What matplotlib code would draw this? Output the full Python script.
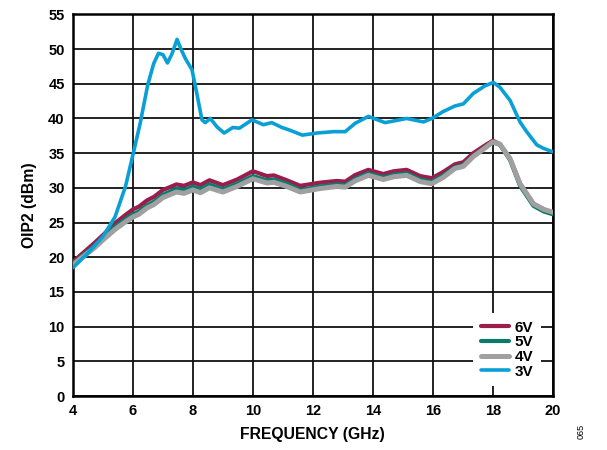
import matplotlib
matplotlib.use("Agg")
import matplotlib.pyplot as plt

plt.rcParams['font.family'] = ['Liberation Sans', 'DejaVu Sans']
plt.rcParams['font.weight'] = 'bold'

# frequency (GHz) and OIP2 (dBm) per supply voltage
freq_6v = [4.0, 4.25, 4.7, 5.0, 5.4, 5.75, 6.0, 6.2, 6.47, 6.7, 7.0, 7.45, 7.7, 8.0, 8.25, 8.55,
           9.0, 9.47, 10.0, 10.47, 10.7, 11.13, 11.58, 12.24, 12.8, 13.08, 13.41, 13.85, 14.35,
           14.7, 15.13, 15.58, 15.97, 16.35, 16.74, 17.02, 17.35, 17.7, 18.0, 18.24, 18.58,
           18.91, 19.36, 19.7, 20.0]
oip2_6v = [19.3, 20.3, 22.0, 23.2, 24.9, 26.1, 26.9, 27.3, 28.2, 28.7, 29.7, 30.5, 30.3, 30.8, 30.4, 31.1,
           30.4, 31.2, 32.4, 31.7, 31.8, 31.1, 30.3, 30.75, 31.0, 30.9, 31.85, 32.6, 32.0,
           32.4, 32.6, 31.7, 31.4, 32.3, 33.4, 33.7, 35.0, 36.0, 36.8, 36.3, 34.2,
           30.6, 27.7, 26.9, 26.4]

freq_5v = freq_6v
oip2_5v = [19.0, 20.0, 21.6, 22.8, 24.4, 25.5, 26.2, 26.6, 27.5, 28.0, 29.0, 29.9, 29.7, 30.2, 29.8, 30.5,
           29.8, 30.6, 31.7, 31.1, 31.2, 30.6, 29.7, 30.2, 30.5, 30.4, 31.3, 32.1, 31.5,
           31.9, 32.1, 31.2, 30.9, 31.8, 33.0, 33.3, 34.6, 35.7, 36.6, 36.2, 34.0,
           30.3, 27.4, 26.6, 26.2]

freq_4v = freq_6v
oip2_4v = [18.9, 19.8, 21.3, 22.5, 24.0, 25.1, 25.8, 26.2, 27.1, 27.6, 28.6, 29.4, 29.2, 29.7, 29.3, 30.0,
           29.4, 30.2, 31.3, 30.7, 30.8, 30.2, 29.4, 29.9, 30.2, 30.1, 31.0, 31.8, 31.2,
           31.6, 31.8, 30.9, 30.6, 31.5, 32.8, 33.1, 34.5, 35.6, 36.6, 36.3, 34.2,
           30.6, 27.7, 26.9, 26.5]

freq_3v = [4.0, 4.5, 5.0, 5.4, 5.75, 6.0, 6.24, 6.49, 6.69, 6.85, 7.0, 7.15, 7.3, 7.47, 7.6, 7.74, 7.97,
           8.13, 8.3, 8.41, 8.58, 8.8, 9.04, 9.33, 9.55, 9.97, 10.35, 10.63, 10.97, 11.24,
           11.65, 12.13, 12.69, 13.08, 13.41, 13.85, 14.41, 15.13, 15.69, 15.97, 16.35,
           16.74, 17.02, 17.35, 17.74, 18.02, 18.24, 18.58, 18.91, 19.13, 19.47, 19.69, 20.0]
oip2_3v = [18.5, 20.6, 23.0, 25.8, 30.2, 34.8, 39.3, 44.8, 47.9, 49.4, 49.2, 48.0, 49.3, 51.4, 50.0, 48.7, 47.0,
           43.6, 39.8, 39.4, 40.0, 38.8, 37.9, 38.7, 38.6, 39.8, 39.1, 39.4, 38.7, 38.3,
           37.6, 37.9, 38.1, 38.1, 39.3, 40.3, 39.4, 40.0, 39.5, 40.0, 41.0,
           41.8, 42.1, 43.6, 44.7, 45.2, 44.5, 42.6, 39.5, 38.1, 36.2, 35.7, 35.2]

x_ticks = [4, 6, 8, 10, 12, 14, 16, 18, 20]
y_ticks = [0, 5, 10, 15, 20, 25, 30, 35, 40, 45, 50, 55]

fig = plt.figure(figsize=(6.07, 4.5), dpi=100)
ax = fig.add_axes([0.1203, 0.12, 0.7902, 0.848])

kw = dict(solid_joinstyle='round', solid_capstyle='round')
ax.plot(freq_6v, oip2_6v, color='#9C1D4C', lw=3.0, label='6V', zorder=3, **kw)
ax.plot(freq_5v, oip2_5v, color='#0A7A6C', lw=3.0, label='5V', zorder=3, **kw)
ax.plot(freq_4v, oip2_4v, color='#A0A0A0', lw=3.6, label='4V', zorder=3, **kw)
ax.plot(freq_3v, oip2_3v, color='#0AA0D6', lw=2.6, label='3V', zorder=4, **kw)

ax.set_xlim(4, 20)
ax.set_ylim(0, 55)
ax.set_xticks(x_ticks)
ax.set_yticks(y_ticks)
ax.tick_params(length=0, labelsize=10.5, pad=6)
for lab in ax.get_xticklabels() + ax.get_yticklabels():
    lab.set_fontweight('bold')
ax.grid(True, color='#111111', lw=1.3)
ax.set_axisbelow(True)
for s in ax.spines.values():
    s.set_linewidth(1.8)
    s.set_color('black')

ax.set_xlabel('FREQUENCY (GHz)', fontsize=11.3, fontweight='bold', labelpad=6)
ax.set_ylabel('OIP2 (dBm)', fontsize=11.3, fontweight='bold', labelpad=8)

leg = ax.legend(loc='lower right', bbox_to_anchor=(0.975, 0.025), frameon=True,
                facecolor='white', edgecolor='none', framealpha=1, fancybox=False,
                fontsize=11, handlelength=1.85, handletextpad=0.35, labelspacing=0.05,
                borderpad=0.5, borderaxespad=0)
for t in leg.get_texts():
    t.set_fontweight('bold')
leg.set_zorder(5)

fig.text(0.958, 0.025, '065', rotation=90, fontsize=6.5, fontweight='normal', ha='center', va='bottom')

fig.savefig('out.png', dpi=100)
